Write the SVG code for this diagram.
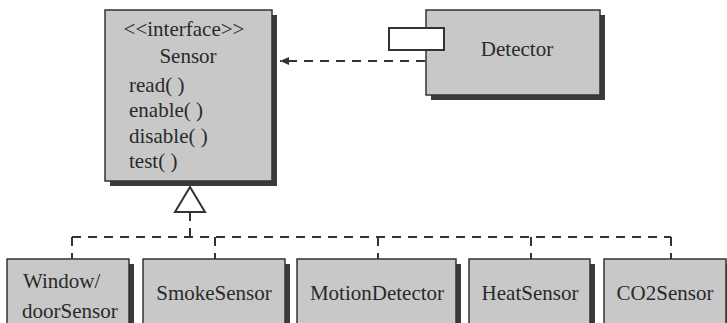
<svg xmlns="http://www.w3.org/2000/svg" width="727" height="323" viewBox="0 0 727 323">
<defs>
<style>
.shadow{fill:#3a3a3a;}
.box{fill:#c8c8c8;stroke:#333;stroke-width:1.5;}
.t{font-family:"Liberation Serif","Times New Roman",serif;font-size:21px;fill:#2a2a2a;}
.c{text-anchor:middle;}
.dash{fill:none;stroke:#333;stroke-width:2;stroke-dasharray:9 7;}
.solid{fill:none;stroke:#333;stroke-width:2;}
</style>
<marker id="arr" markerWidth="10" markerHeight="8" refX="9" refY="4" orient="auto" markerUnits="userSpaceOnUse">
<path d="M0,0 L9,4 L0,8 Z" fill="#333"/>
</marker>
</defs>
<rect width="727" height="323" fill="#fff"/>

<g id="Sensor">
<rect class="shadow" x="110" y="15" width="167" height="171"/>
<rect class="box" x="105" y="10" width="167" height="171"/>
<text class="t c" x="184" y="36">&lt;&lt;interface&gt;&gt;</text>
<text class="t c" x="188" y="63">Sensor</text>
<text class="t" x="129" y="92">read( )</text>
<text class="t" x="129" y="117">enable( )</text>
<text class="t" x="129" y="143">disable( )</text>
<text class="t" x="129" y="168">test( )</text>
</g>

<g id="Detector">
<rect class="shadow" x="431" y="15" width="174" height="85"/>
<rect class="box" x="426" y="10" width="174" height="85"/>
<rect x="389" y="28" width="55" height="22" fill="#fff" stroke="#333" stroke-width="2"/>
<text class="t c" x="517" y="56">Detector</text>
</g>

<g id="WindowDoorSensor">
<rect class="shadow" x="12" y="264" width="122" height="70"/>
<rect class="box" x="7" y="259" width="122" height="70"/>
<text class="t" x="23" y="288">Window/</text>
<text class="t" x="22" y="318">doorSensor</text>
</g>

<g id="SmokeSensor">
<rect class="shadow" x="148" y="264" width="142" height="70"/>
<rect class="box" x="143" y="259" width="142" height="70"/>
<text class="t c" x="214" y="300">SmokeSensor</text>
</g>

<g id="MotionDetector">
<rect class="shadow" x="302" y="264" width="159" height="70"/>
<rect class="box" x="297" y="259" width="159" height="70"/>
<text class="t c" x="377" y="300">MotionDetector</text>
</g>

<g id="HeatSensor">
<rect class="shadow" x="474" y="264" width="121" height="70"/>
<rect class="box" x="469" y="259" width="121" height="70"/>
<text class="t c" x="530" y="300">HeatSensor</text>
</g>

<g id="CO2Sensor">
<rect class="shadow" x="609" y="264" width="122" height="70"/>
<rect class="box" x="604" y="259" width="122" height="70"/>
<text class="t c" x="665" y="300">CO2Sensor</text>
</g>

<g id="connectors">
<line class="dash" x1="425" y1="61" x2="280" y2="61" marker-end="url(#arr)"/>
<path class="solid" d="M190,187 L205,212 L175,212 Z" fill="#fff"/>
<line class="dash" x1="190" y1="212" x2="190" y2="237"/>
<line class="dash" x1="72" y1="237" x2="671" y2="237"/>
<line class="dash" x1="72" y1="237" x2="72" y2="259"/>
<line class="dash" x1="215" y1="237" x2="215" y2="259"/>
<line class="dash" x1="378" y1="237" x2="378" y2="259"/>
<line class="dash" x1="531" y1="237" x2="531" y2="259"/>
<line class="dash" x1="671" y1="237" x2="671" y2="259"/>
</g>
</svg>
